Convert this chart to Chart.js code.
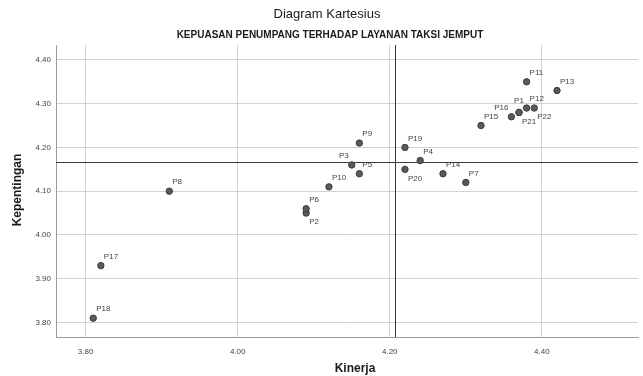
<!DOCTYPE html>
<html>
<head>
<meta charset="utf-8">
<script src="https://cdn.jsdelivr.net/npm/chart.js@4.4.1/dist/chart.umd.min.js"></script>
<style>
    html, body { margin: 0; padding: 0; background: #fff; }
    #wrap { width: 643px; height: 376px; position: relative; }
</style>
</head>
<body>
<div id="wrap"><canvas id="myChart"></canvas></div>
<script>
const pointNames = ['P1', 'P2', 'P3', 'P4', 'P5', 'P6', 'P7', 'P8', 'P9', 'P10', 'P11',
    'P12', 'P13', 'P14', 'P15', 'P16', 'P17', 'P18', 'P19', 'P20', 'P21', 'P22'];
const kinerja = [4.37, 4.09, 4.15, 4.24, 4.16, 4.09, 4.30, 3.91, 4.16, 4.12, 4.38,
    4.38, 4.42, 4.27, 4.32, 4.36, 3.82, 3.81, 4.22, 4.22, 4.37, 4.39];
const kepentingan = [4.28, 4.05, 4.16, 4.17, 4.14, 4.06, 4.12, 4.10, 4.21, 4.11, 4.35,
    4.29, 4.33, 4.14, 4.25, 4.27, 3.93, 3.81, 4.20, 4.15, 4.28, 4.29];
// where each point label sits: ur = upper right, br = below right, ul = upper left, u = above
const labelPos = ['u', 'br', 'ul', 'ur', 'ur', 'ur', 'ur', 'ur', 'ur', 'ur', 'ur',
    'ur', 'ur', 'ur', 'ur', 'ul', 'ur', 'ur', 'ur', 'br', 'br', 'br'];

const xTicks = [3.80, 4.00, 4.20, 4.40];
const yTicks = [3.80, 3.90, 4.00, 4.10, 4.20, 4.30, 4.40];

// mean lines (Kinerja, Kepentingan)
const meanKinerja = 4.207;
const meanKepentingan = 4.167;

const chartTitle = 'Diagram Kartesius';
const chartSubtitle = 'KEPUASAN PENUMPANG TERHADAP LAYANAN TAKSI JEMPUT';
const xTitle = 'Kinerja';
const yTitle = 'Kepentingan';

const FONT = '"Liberation Sans", Arial, sans-serif';

const points = kinerja.map((x, i) => ({ x: x, y: kepentingan[i] }));

const overlayPlugin = {
    id: 'overlay',
    beforeDatasetsDraw(chart) {
        const ctx = chart.ctx;
        const area = chart.chartArea;
        const xs = chart.scales.x;
        const ys = chart.scales.y;
        ctx.save();
        ctx.strokeStyle = '#3a3a3a';
        ctx.lineWidth = 1;
        const px = Math.round(xs.getPixelForValue(meanKinerja)) + 0.5;
        const py = Math.round(ys.getPixelForValue(meanKepentingan)) + 0.5;
        ctx.beginPath();
        ctx.moveTo(px, area.top);
        ctx.lineTo(px, area.bottom);
        ctx.moveTo(area.left, py);
        ctx.lineTo(area.right, py);
        ctx.stroke();
        ctx.restore();
    },
    afterDraw(chart) {
        const ctx = chart.ctx;
        const meta = chart.getDatasetMeta(0);
        ctx.save();

        // titles
        ctx.fillStyle = '#1a1a1a';
        ctx.textAlign = 'center';
        ctx.textBaseline = 'middle';
        ctx.font = '13px ' + FONT;
        ctx.fillText(chartTitle, 327, 14);
        ctx.font = 'bold 10px ' + FONT;
        ctx.fillText(chartSubtitle, 330, 35, 310);

        // axis titles
        ctx.font = 'bold 12px ' + FONT;
        ctx.fillText(xTitle, 355, 369);
        ctx.save();
        ctx.translate(18, 190);
        ctx.rotate(-Math.PI / 2);
        ctx.fillText(yTitle, 0, 0);
        ctx.restore();

        // point labels
        ctx.font = '8px ' + FONT;
        ctx.fillStyle = '#444';
        meta.data.forEach((el, i) => {
            const pos = labelPos[i];
            let dx = 3, dy = -9;
            ctx.textAlign = 'left';
            if (pos === 'br') { dy = 9; }
            if (pos === 'ul') { dx = -3; ctx.textAlign = 'right'; }
            if (pos === 'u') { dx = 0; dy = -12; ctx.textAlign = 'center'; }
            ctx.fillText(pointNames[i], el.x + dx, el.y + dy);
        });
        ctx.restore();
    }
};

const chart = new Chart(document.querySelector('#myChart'), {
    type: 'scatter',
    data: {
        datasets: [{
            data: points,
            backgroundColor: '#5a5a5a',
            borderColor: '#3c3c3c',
            borderWidth: 1,
            pointRadius: 3.2,
        }]
    },
    options: {
        responsive: true,
        maintainAspectRatio: false,
        animation: false,
        layout: { padding: { top: 45, right: 0, bottom: 0, left: 0 } },
        plugins: {
            legend: { display: false },
            tooltip: { enabled: false },
        },
        scales: {
            x: {
                type: 'linear',
                min: 3.761,
                max: 4.5265,
                afterFit: (scale) => { scale.height = 39; },
                afterBuildTicks: (scale) => { scale.ticks = xTicks.map(v => ({ value: v })); },
                grid: { color: '#d2d2d2', drawTicks: false },
                border: { display: true, color: '#9a9a9a' },
                ticks: {
                    padding: 10,
                    color: '#444',
                    font: { family: FONT, size: 8 },
                    callback: (v) => Number(v).toFixed(2),
                },
            },
            y: {
                type: 'linear',
                min: 3.767,
                max: 4.434,
                afterFit: (scale) => { scale.width = 56; },
                afterBuildTicks: (scale) => { scale.ticks = yTicks.map(v => ({ value: v })); },
                grid: { color: '#d2d2d2', drawTicks: false },
                border: { display: true, color: '#9a9a9a' },
                ticks: {
                    padding: 5,
                    color: '#444',
                    font: { family: FONT, size: 8 },
                    callback: (v) => Number(v).toFixed(2),
                },
            },
        },
    },
    plugins: [overlayPlugin],
});
</script>
</body>
</html>
